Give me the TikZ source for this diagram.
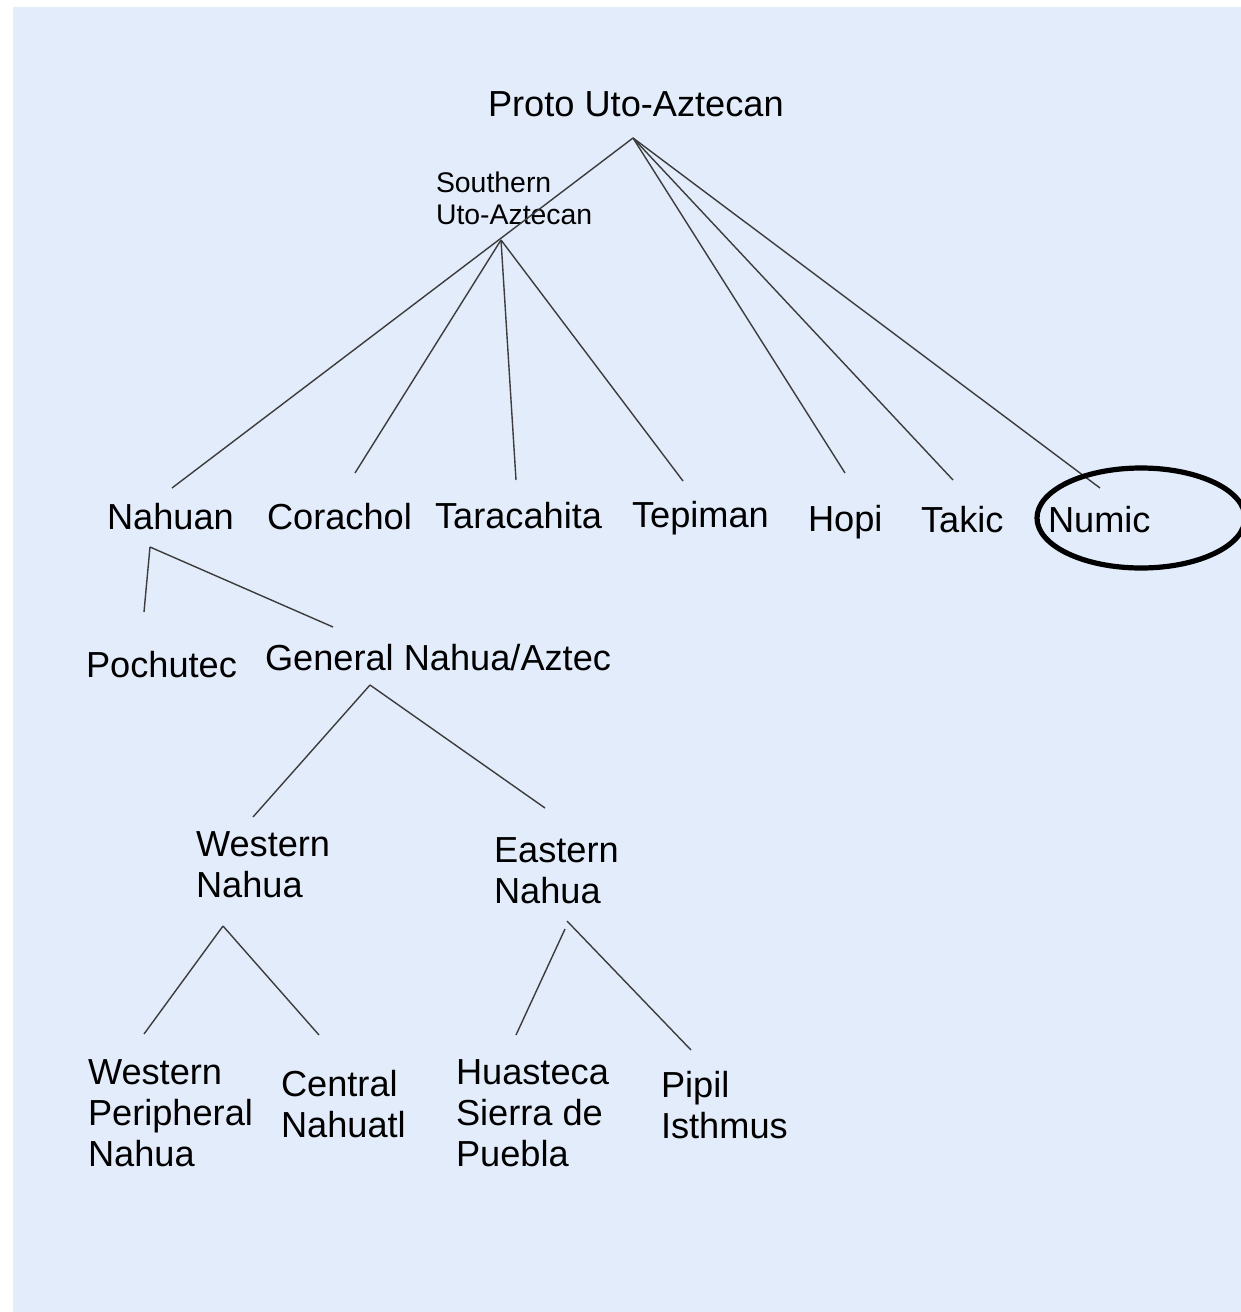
\documentclass[tikz,border=0pt]{standalone}
\usepackage{fontspec}
\setmainfont{Liberation Sans}
\definecolor{bgblue}{RGB}{227,236,251}
\definecolor{linegray}{RGB}{60,60,60}
\begin{document}
\begin{tikzpicture}[x=0.5pt,y=-0.5pt,
  lbl/.style={anchor=base west,inner sep=0pt,outer sep=0pt,align=left,
    font=\fontsize{18.1pt}{20.5pt}\selectfont},
  smalllbl/.style={anchor=base west,inner sep=0pt,outer sep=0pt,align=left,
    font=\fontsize{14.2pt}{15.6pt}\selectfont},
  branch/.style={draw=linegray,line width=0.7pt},
  ringmark/.style={draw=black,line width=2.6pt}]
\useasboundingbox (0,0) rectangle (1241,1312);
\fill[bgblue] (13,7) rectangle (1241,1312);

% labels (multi-line nodes are placed by the baseline of their last line)
\node[lbl] (pua) at (488,116) {Proto Uto-Aztecan};
\node[smalllbl] (sua) at (436,224) {Southern\\Uto-Aztecan};
\node[lbl] (nahuan) at (107,529) {Nahuan};
\node[lbl] (corachol) at (267,529) {Corachol};
\node[lbl] (taracahita) at (435,528) {Taracahita};
\node[lbl] (tepiman) at (632,527) {Tepiman};
\node[lbl] (hopi) at (808,531) {Hopi};
\node[lbl] (takic) at (921,532) {Takic};
\node[lbl] (numic) at (1048,532) {Numic};
\node[lbl] (pochutec) at (86,677) {Pochutec};
\node[lbl] (general) at (265,670) {General Nahua/Aztec};
\node[lbl] (western) at (196,897) {Western\\Nahua};
\node[lbl] (eastern) at (494,903) {Eastern\\Nahua};
\node[lbl] (wpn) at (88,1166) {Western\\Peripheral\\Nahua};
\node[lbl] (central) at (281,1137) {Central\\Nahuatl};
\node[lbl] (huasteca) at (456,1166) {Huasteca\\Sierra de\\Puebla};
\node[lbl] (pipil) at (661,1138) {Pipil\\Isthmus};

% connector end points
\coordinate (pua-b) at (633,138);
\coordinate (sua-b) at (501,240);
\coordinate (nahuan-t) at (172,488);
\coordinate (corachol-t) at (355,473);
\coordinate (taracahita-t) at (516,480);
\coordinate (tepiman-t) at (683,481);
\coordinate (hopi-t) at (845,473);
\coordinate (takic-t) at (953,480);
\coordinate (numic-t) at (1100,488);
\coordinate (nahuan-b) at (150,547);
\coordinate (pochutec-t) at (144,612);
\coordinate (general-t) at (333,627);
\coordinate (general-b) at (370,685);
\coordinate (western-t) at (253,817);
\coordinate (eastern-t) at (545,808);
\coordinate (western-b) at (223,926);
\coordinate (wpn-t) at (144,1034);
\coordinate (central-t) at (319,1035);
\coordinate (eastern-bl) at (565,929);
\coordinate (eastern-br) at (567,921);
\coordinate (huasteca-t) at (516,1035);
\coordinate (pipil-t) at (691,1050);

% connectors
\draw[branch] (pua-b) -- (nahuan-t);
\draw[branch] (pua-b) -- (hopi-t);
\draw[branch] (pua-b) -- (takic-t);
\draw[branch] (pua-b) -- (numic-t);
\draw[branch] (sua-b) -- (corachol-t);
\draw[branch] (sua-b) -- (taracahita-t);
\draw[branch] (sua-b) -- (tepiman-t);
\draw[branch] (nahuan-b) -- (pochutec-t);
\draw[branch] (nahuan-b) -- (general-t);
\draw[branch] (general-b) -- (western-t);
\draw[branch] (general-b) -- (eastern-t);
\draw[branch] (western-b) -- (wpn-t);
\draw[branch] (western-b) -- (central-t);
\draw[branch] (eastern-bl) -- (huasteca-t);
\draw[branch] (eastern-br) -- (pipil-t);

% highlight ellipse
\draw[ringmark] (1141,518) ellipse [x radius=104, y radius=50];
\end{tikzpicture}
\end{document}
